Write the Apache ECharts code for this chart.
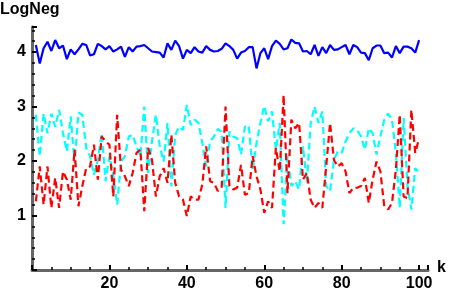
<!DOCTYPE html>
<html><head><meta charset="utf-8">
<script src="https://cdn.jsdelivr.net/npm/echarts@6/dist/echarts.min.js"></script>
<style>html,body{margin:0;padding:0;background:#fff}#c{width:458px;height:298px}</style>
</head><body><div id="c"></div>
<script>
var blue = [4.13,3.79,4.07,4.19,4.02,4.22,4.07,4.12,3.87,4.05,
3.96,4.05,4.15,4.13,3.94,3.96,4.15,4.11,4.05,4.11,
4.01,4.05,4.10,3.91,4.09,4.01,4.10,4.11,4.13,4.07,
4.01,4.00,3.99,3.90,4.16,4.04,4.21,4.11,3.88,4.04,
3.98,4.09,4.01,3.99,4.11,4.04,4.01,4.02,4.06,4.16,
4.11,4.04,3.88,3.99,4.02,4.09,4.09,3.70,3.98,4.07,
3.87,4.11,4.21,4.15,4.05,4.07,4.23,4.17,4.16,4.01,
4.02,3.96,4.13,3.93,4.09,3.98,4.13,4.04,4.05,4.09,
4.13,3.96,4.13,4.09,3.99,3.98,3.85,4.07,4.12,4.12,
3.98,3.99,3.90,4.11,3.98,4.10,4.10,4.07,3.99,4.22];
var cyan = [2.85,2.09,2.87,2.51,2.87,2.63,2.94,2.51,2.18,2.82,
1.96,2.89,2.85,2.24,2.09,1.75,2.02,2.51,1.63,2.09,
1.75,1.20,1.99,2.09,2.45,2.48,2.27,2.09,3.00,1.78,
2.36,2.85,2.27,1.99,2.70,1.54,2.48,2.63,2.57,3.03,
2.66,2.76,2.70,2.33,1.90,2.36,2.45,2.59,2.54,1.14,
2.54,2.45,2.42,2.12,2.63,2.65,1.84,2.33,2.70,3.01,
2.73,2.91,2.21,2.70,0.84,2.09,1.54,1.63,1.48,2.27,
1.60,2.70,3.00,2.70,2.91,1.54,1.45,2.02,2.18,2.15,
2.36,2.51,2.60,2.57,2.45,2.21,2.60,2.51,2.12,2.45,
2.76,2.87,2.76,2.15,1.14,2.79,1.54,1.11,1.87,1.78];
var red = [1.26,1.90,1.20,1.90,1.14,1.69,1.14,1.81,1.66,1.29,
2.21,1.17,1.54,1.87,1.90,2.30,1.66,2.45,2.36,2.30,
1.35,2.85,1.84,1.72,1.54,1.78,2.15,2.21,1.08,2.24,
2.02,1.35,1.72,1.87,1.60,2.48,1.60,1.35,1.29,0.99,
1.35,1.29,1.29,1.57,2.27,1.63,1.60,1.45,1.51,3.00,
1.54,1.48,1.51,1.93,1.38,1.41,2.09,1.72,1.48,1.05,
1.26,1.14,2.24,1.81,3.21,1.41,2.76,2.60,2.70,1.66,
1.78,1.29,1.14,1.23,1.14,1.90,2.70,2.02,1.90,1.96,
1.81,1.41,1.51,1.51,1.54,1.69,1.23,1.66,1.99,1.81,
1.17,1.11,1.23,1.84,2.85,1.35,1.32,2.94,2.15,2.42];
var xTickLabels = [20,40,60,80,100];
var yTickLabels = [1,2,3,4];
var ks = blue.map(function(_, i){ return i + 1; });
function pairs(vals){ return vals.map(function(v, i){ return [ks[i], v]; }); }

var font = 'Liberation Sans, Arial, sans-serif';
var chart = echarts.init(document.getElementById('c'), null, {renderer:'canvas'});
chart.setOption({
  animation:false,
  backgroundColor:'#fff',
  grid:{left:32, right:30, top:27, bottom:28},
  xAxis:{
    type:'value', min:0, max:102.3, interval:20,
    axisLine:{onZero:false, lineStyle:{color:'#666', width:3}},
    axisTick:{inside:true, length:5, lineStyle:{color:'#000', width:2}},
    minorTick:{show:true, splitNumber:4, length:3, lineStyle:{color:'#000', width:1.5}},
    splitLine:{show:false},
    axisLabel:{margin:6, color:'#000', fontSize:16, fontWeight:'bold', fontFamily:font,
      showMaxLabel:false,
      formatter:function(v){ return xTickLabels.indexOf(v) >= 0 ? String(v) : ''; }}
  },
  yAxis:{
    type:'value', min:0, max:4.46, interval:1,
    axisLine:{onZero:false, lineStyle:{color:'#666', width:3}},
    axisTick:{inside:true, length:5, lineStyle:{color:'#000', width:2}},
    minorTick:{show:true, splitNumber:5, length:3, lineStyle:{color:'#000', width:1.5}},
    splitLine:{show:false},
    axisLabel:{margin:6, color:'#000', fontSize:16, fontWeight:'bold', fontFamily:font,
      showMaxLabel:false,
      formatter:function(v){ return yTickLabels.indexOf(v) >= 0 ? String(v) : ''; }}
  },
  graphic:[
    {type:'text', left:0, top:2, style:{text:'LogNeg', fontSize:16, fontWeight:'bold', fontFamily:font, fill:'#000'}},
    {type:'text', left:437, top:260, style:{text:'k', fontSize:16, fontWeight:'bold', fontFamily:font, fill:'#000'}}
  ],
  series:[
    {type:'line', data:pairs(blue), symbol:'none', lineStyle:{color:'#0000ff', width:2.2}},
    {type:'line', data:pairs(cyan), symbol:'none', lineStyle:{color:'#00ffff', width:2.2, type:[7,4]}},
    {type:'line', data:pairs(red), symbol:'none', lineStyle:{color:'#ff0000', width:2.2, type:[7,4]}}
  ]
});
</script></body></html>
